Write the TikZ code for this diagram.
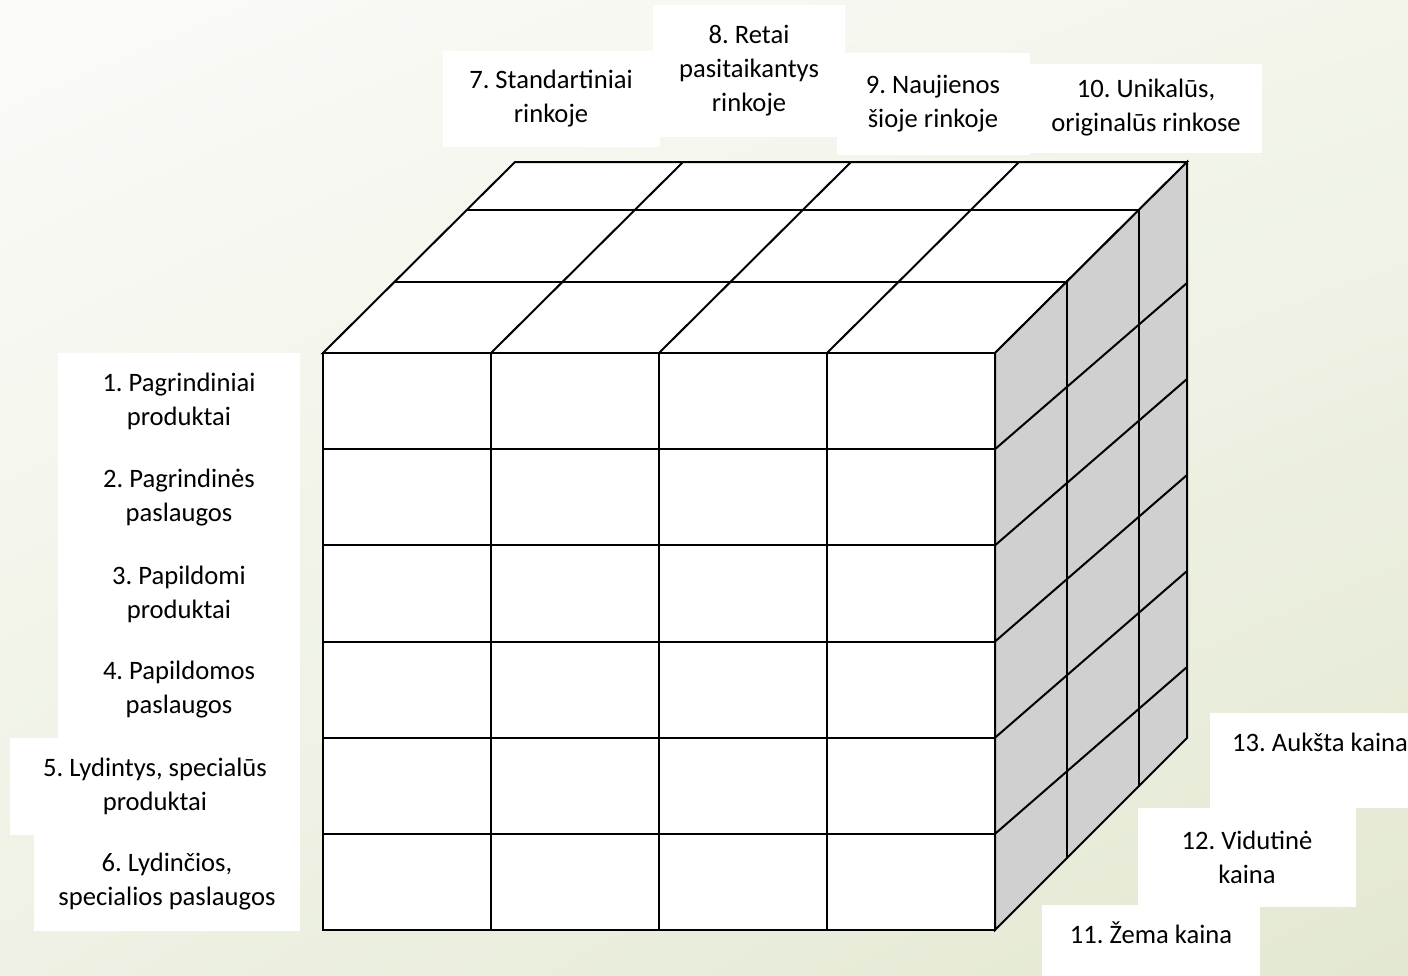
\documentclass[tikz,border=0pt]{standalone}
\usepackage{fontspec}
\setmainfont{Carlito}
\usetikzlibrary{shadings}
\definecolor{bgul}{RGB}{251,251,248}
\definecolor{bgur}{RGB}{243,245,235}
\definecolor{bgll}{RGB}{238,241,227}
\definecolor{bglr}{RGB}{227,232,210}
\definecolor{sidegray}{RGB}{208,208,208}
\frenchspacing

\begin{document}
\begin{tikzpicture}[x=0.5pt,y=-0.5pt,
    every node/.style={font=\fontsize{13.3}{17}\selectfont, align=center},
    lbl/.style={fill=white, inner sep=0pt},
    gridline/.style={draw=black, line width=1pt}]
\useasboundingbox (0,0) rectangle (1408,975);
\shade[upper left=bgul, upper right=bgur, lower left=bgll, lower right=bglr] (0,0) rectangle (1408,975);

% labels
\node[lbl, minimum width=121pt, minimum height=48.5pt] (p1) at (179,401) {1. Pagrindiniai\\produktai};
\node[lbl, minimum width=121pt, minimum height=48.5pt] (p2) at (179,498) {2. Pagrindinės\\paslaugos};
\node[lbl, minimum width=121pt, minimum height=48.5pt] (p3) at (179,594) {3. Papildomi\\produktai};
\node[lbl, minimum width=121pt, minimum height=48.5pt] (p4) at (179,690) {4. Papildomos\\paslaugos};
\node[lbl, minimum width=145pt, minimum height=48.5pt] (p5) at (155,786) {5. Lydintys, specialūs\\produktai};
\node[lbl, minimum width=133pt, minimum height=48.5pt] (p6) at (167,882) {6. Lydinčios,\\specialios paslaugos};
\node[lbl, minimum width=108.5pt, minimum height=48pt] (m7) at (551,99) {7. Standartiniai\\rinkoje};
\node[lbl, minimum width=96pt, minimum height=66pt] (m8) at (749,71) {8. Retai\\pasitaikantys\\rinkoje};
\node[lbl, minimum width=96.5pt, minimum height=51pt] (m9) at (933,104) {9. Naujienos\\šioje rinkoje};
\node[lbl, minimum width=116pt, minimum height=44.5pt] (m10) at (1146,108) {10. Unikalūs,\\originalūs rinkose};
\node[lbl, anchor=base, minimum width=110pt, text height=19pt, text depth=28.5pt] (k13) at (1320,751) {13. Aukšta kaina};
\node[lbl, minimum width=109pt, minimum height=49.5pt] (k12) at (1247,857) {12. Vidutinė\\kaina};
\node[lbl, anchor=base, minimum width=109pt, text height=19pt, text depth=21pt] (k11) at (1151,943) {11. Žema kaina};

% top face
\filldraw[fill=white, gridline] (323,353) -- (995,353) -- (1187,162) -- (515,162) -- cycle;
\foreach \dx/\dy in {72/71,144/143}
  \draw[gridline] (323+\dx,353-\dy) -- (995+\dx,353-\dy);
\foreach \i in {1,...,3}
  \draw[gridline] (323+168*\i,353) -- (515+168*\i,162);

% right face
\filldraw[fill=sidegray, gridline] (995,353) -- (1187,162) -- (1187,738) -- (995,930) -- cycle;
\foreach \dx/\dy in {72/71,144/143}
  \draw[gridline] (995+\dx,353-\dy) -- (995+\dx,930-\dy);
\foreach \j in {1,...,5}
  \draw[gridline] (995,353+96.17*\j) -- (1187,187+96*\j);

% front face
\filldraw[fill=white, gridline] (323,353) rectangle (995,930);
\foreach \i in {1,...,3}
  \draw[gridline] (323+168*\i,353) -- (323+168*\i,930);
\foreach \j in {1,...,5}
  \draw[gridline] (323,353+96.17*\j) -- (995,353+96.17*\j);
\end{tikzpicture}
\end{document}
